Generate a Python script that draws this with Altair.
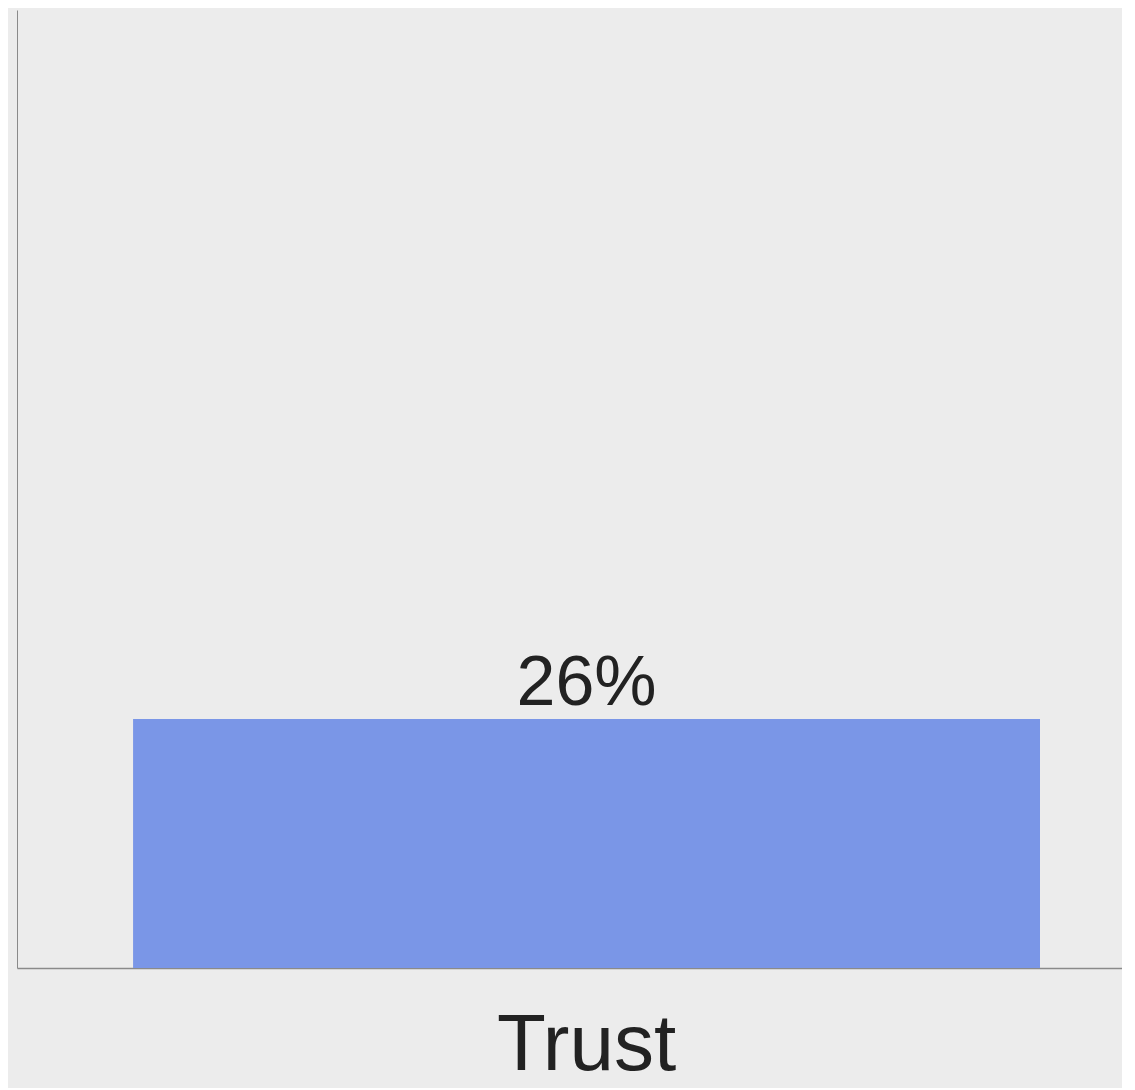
import altair as alt
import pandas as pd

categories = ["Trust"]
values = [26]
labels = ["26%"]

df = pd.DataFrame({"category": categories, "value": values, "label": labels})

x_enc = alt.X("category:N", title=None,
              scale=alt.Scale(paddingInner=0, paddingOuter=0.1092, align=0.586),
              axis=alt.Axis(labelAngle=0, labelFontSize=80, labelFont="Liberation Sans",
                            labelColor="#222222", labelBaseline="alphabetic",
                            labelPadding=101, labelLimit=0, ticks=False,
                            domainColor="#8a8a8a", domainWidth=1.5, grid=False))
y_enc = alt.Y("value:Q", title=None, scale=alt.Scale(domain=[0, 100], nice=False),
              axis=alt.Axis(labels=False, ticks=False, grid=False,
                            domainColor="#8a8a8a", domainWidth=1))

bars = alt.Chart(df).mark_bar(color="#7a96e7").encode(x=x_enc, y=y_enc)
text = alt.Chart(df).mark_text(baseline="alphabetic", dy=-14, fontSize=70,
                               font="Liberation Sans", color="#222222").encode(
    x=alt.X("category:N"), y=alt.Y("value:Q"), text="label:N")

chart = (bars + text).properties(
    width=1105, height=958,
    autosize=alt.AutoSizeParams(type="none"),
    padding={"left": 9, "top": 2, "right": 0, "bottom": 120},
    background="#ececec",
).configure_view(stroke=None)

chart.save("out.html", embed_options={"renderer": "svg", "actions": False})
